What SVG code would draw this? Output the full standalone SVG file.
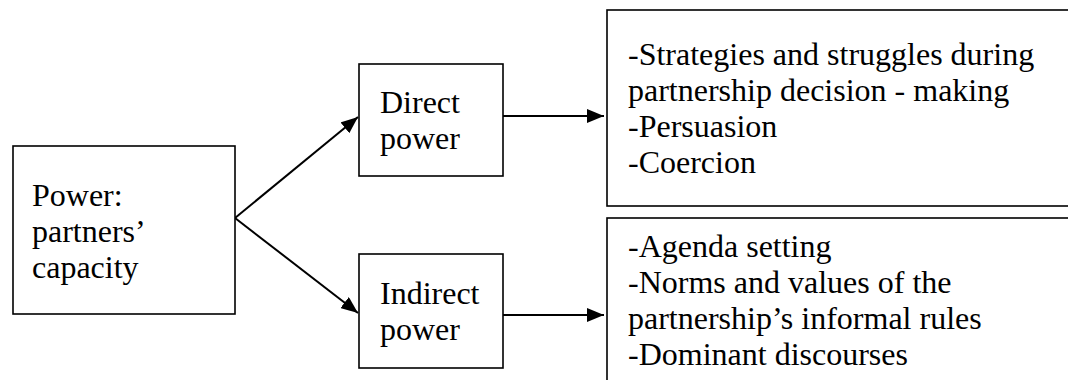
<svg xmlns="http://www.w3.org/2000/svg" width="1068" height="380" viewBox="0 0 1068 380">
<style>
.box{fill:#fff;stroke:#000;stroke-width:1.6}
.t{font-size:32px;fill:#000}
.c{stroke:#000;stroke-width:2;fill:none}
</style>
<defs>
<marker id="ah" markerUnits="userSpaceOnUse" markerWidth="18" markerHeight="14" refX="17" refY="7" orient="auto">
<path d="M0,0 L17,7 L0,14 z" fill="#000"/>
</marker>
</defs>
<rect width="1068" height="380" fill="#fff"/>
<g id="connectors">
<line class="c" x1="235" y1="218" x2="358" y2="117" marker-end="url(#ah)"/>
<line class="c" x1="235" y1="218" x2="358" y2="313" marker-end="url(#ah)"/>
<line class="c" x1="503" y1="116" x2="604" y2="116" marker-end="url(#ah)"/>
<line class="c" x1="503" y1="315" x2="604" y2="315" marker-end="url(#ah)"/>
</g>
<g font-family="Liberation Serif, Times New Roman, DejaVu Serif, serif">
<g id="power">
<rect class="box" x="13" y="146" width="222" height="168"/>
<text class="t" x="32" y="206">Power:</text>
<text class="t" x="32" y="242">partners’</text>
<text class="t" x="32" y="278">capacity</text>
</g>
<g id="direct">
<rect class="box" x="359" y="64" width="144" height="112"/>
<text class="t" x="380" y="113">Direct</text>
<text class="t" x="380" y="149">power</text>
</g>
<g id="indirect">
<rect class="box" x="359" y="254" width="144" height="114"/>
<text class="t" x="380" y="304">Indirect</text>
<text class="t" x="380" y="340">power</text>
</g>
<g id="direct-detail">
<rect class="box" x="607" y="10" width="470" height="196"/>
<text class="t" x="628" y="65">-Strategies and struggles during</text>
<text class="t" x="628" y="101">partnership decision - making</text>
<text class="t" x="628" y="137">-Persuasion</text>
<text class="t" x="628" y="173">-Coercion</text>
</g>
<g id="indirect-detail">
<rect class="box" x="607" y="218" width="470" height="180"/>
<text class="t" x="628" y="257">-Agenda setting</text>
<text class="t" x="628" y="293">-Norms and values of the</text>
<text class="t" x="628" y="329">partnership’s informal rules</text>
<text class="t" x="628" y="365">-Dominant discourses</text>
</g>
</g>
</svg>
